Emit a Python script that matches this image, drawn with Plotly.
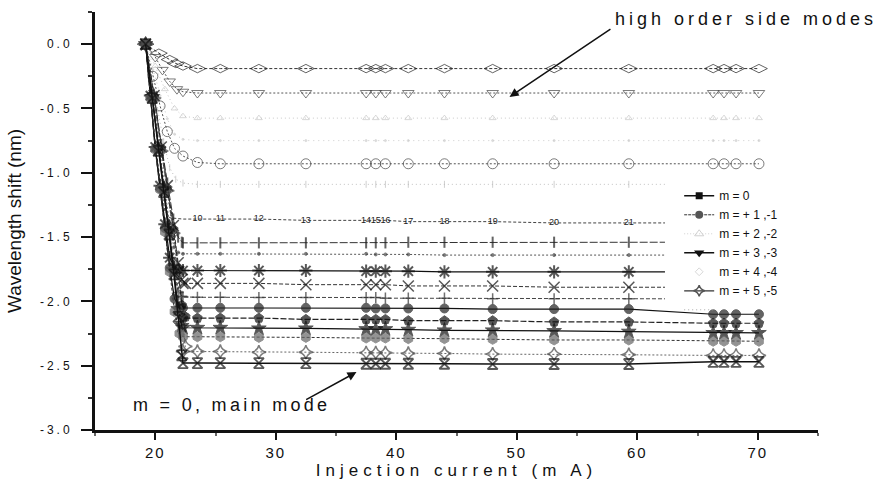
import plotly.graph_objects as go

# ---------------- data ----------------
X_PLAT = [22.3, 23.5, 25.4, 28.6, 32.5, 37.5, 38.3, 39.1, 41.0, 44.0, 48.0, 53.1, 59.3]
X_TAIL_LONG = [66.3, 67.2, 68.2, 70.1]
X_TAIL_SHORT = [62.3]
X_DESC_A = [19.2, 19.6, 20.0, 20.4, 20.8, 21.2, 21.6, 22.0]
X_DESC_B = [19.2, 19.75, 20.25, 20.7, 21.15, 21.55, 21.9, 22.2]
X_DESC_C = [19.2, 19.9, 20.5, 21.0, 21.5, 21.9, 22.2, 22.5]

# upper (high order side) modes
s01_xd = [19.2, 20.3, 21.2, 21.7]
s01_yd = [0.0, -0.07, -0.12, -0.15]
s01_yp = [-0.17, -0.19, -0.19, -0.19, -0.19, -0.19, -0.19, -0.19, -0.19, -0.19, -0.19, -0.19, -0.19]
s01_yt = [-0.19, -0.19, -0.19, -0.19]

s02_xd = [19.2, 20.0, 20.6, 21.2, 21.8]
s02_yd = [0.0, -0.10, -0.20, -0.29, -0.35]
s02_yp = [-0.37, -0.38, -0.38, -0.38, -0.38, -0.38, -0.38, -0.38, -0.38, -0.38, -0.38, -0.38, -0.38]
s02_yt = [-0.38, -0.38, -0.38, -0.38]

s03_xd = [19.2, 20.0, 20.8, 21.6]
s03_yd = [0.0, -0.17, -0.35, -0.50]
s03_yp = [-0.56, -0.575, -0.575, -0.575, -0.575, -0.575, -0.575, -0.575, -0.575, -0.575, -0.575, -0.575, -0.575]
s03_yt = [-0.575, -0.575, -0.575, -0.575]

s04_xd = [19.2, 19.8, 20.4, 21.0, 21.6]
s04_yd = [0.0, -0.20, -0.40, -0.58, -0.70]
s04_yp = [-0.74, -0.75, -0.75, -0.75, -0.75, -0.75, -0.75, -0.75, -0.75, -0.75, -0.75, -0.75, -0.75]
s04_yt = [-0.75, -0.75, -0.75, -0.75]

s05_xd = [19.2, 19.8, 20.4, 21.0, 21.6]
s05_yd = [0.0, -0.25, -0.48, -0.68, -0.81]
s05_yp = [-0.87, -0.92, -0.93, -0.93, -0.93, -0.93, -0.93, -0.93, -0.93, -0.93, -0.93, -0.93, -0.93]
s05_yt = [-0.93, -0.93, -0.93, -0.93]

s06_xd = [19.2, 19.7, 20.2, 20.7, 21.2, 21.7]
s06_yd = [0.0, -0.26, -0.52, -0.76, -0.96, -1.05]
s06_yp = [-1.08, -1.09, -1.09, -1.09, -1.09, -1.09, -1.09, -1.09, -1.09, -1.09, -1.09, -1.09, -1.09]
s06_yt = [-1.09]

# lower modes
s07_yd = [0.0, -0.38, -0.76, -1.06, -1.30, -1.35]
s07_yp = [-1.36, -1.36, -1.36, -1.36, -1.37, -1.37, -1.37, -1.37, -1.38, -1.38, -1.38, -1.39, -1.39]
s07_yt = [-1.39]
s07_labels = ["", "10", "11", "12", "13", "14", "15", "16", "17", "18", "19", "20", "21"]

s08_yd = [0.0, -0.39, -0.78, -1.08, -1.36, -1.50, -1.54]
s08_yp = [-1.545, -1.545, -1.545, -1.545, -1.545, -1.545, -1.545, -1.545, -1.54, -1.54, -1.54, -1.54, -1.54]
s08_yt = [-1.54]

s09_yd = [0.0, -0.39, -0.78, -1.09, -1.38, -1.58, -1.62]
s09_yp = [-1.63, -1.63, -1.63, -1.63, -1.63, -1.63, -1.635, -1.635, -1.635, -1.64, -1.64, -1.64, -1.64]
s09_yt = [-1.64]

s10_yd = [0.0, -0.40, -0.80, -1.10, -1.40, -1.66, -1.74, -1.76]
s10_yp = [-1.76, -1.76, -1.76, -1.76, -1.76, -1.765, -1.765, -1.765, -1.765, -1.77, -1.77, -1.77, -1.77]
s10_yt = [-1.77]

s11_yd = [0.0, -0.40, -0.80, -1.10, -1.41, -1.70, -1.83, -1.86]
s11_yp = [-1.86, -1.86, -1.86, -1.86, -1.87, -1.87, -1.87, -1.87, -1.88, -1.88, -1.88, -1.89, -1.89]
s11_yt = [-1.89]

s12_yd = [0.0, -0.40, -0.80, -1.11, -1.42, -1.72, -1.93, -1.96]
s12_yp = [-1.965, -1.968, -1.968, -1.97, -1.97, -1.97, -1.97, -1.975, -1.975, -1.975, -1.98, -1.98, -1.98]
s12_yt = [-1.98]

s13_yd = [0.0, -0.41, -0.81, -1.12, -1.43, -1.74, -1.98, -2.04]
s13_yp = [-2.05, -2.05, -2.05, -2.05, -2.05, -2.05, -2.055, -2.055, -2.055, -2.055, -2.06, -2.06, -2.06]
s13_yt = [-2.10, -2.10, -2.10, -2.10]

s14_yd = [0.0, -0.41, -0.81, -1.12, -1.44, -1.75, -2.03, -2.12]
s14_yp = [-2.13, -2.13, -2.13, -2.13, -2.14, -2.14, -2.14, -2.14, -2.15, -2.15, -2.15, -2.16, -2.16]
s14_yt = [-2.17, -2.17, -2.17, -2.17]

s15_yd = [0.0, -0.41, -0.82, -1.13, -1.45, -1.76, -2.06, -2.19]
s15_yp = [-2.205, -2.205, -2.205, -2.21, -2.21, -2.215, -2.215, -2.215, -2.22, -2.225, -2.225, -2.23, -2.235]
s15_yt = [-2.245, -2.245, -2.245, -2.245]

s16_yd = [0.0, -0.42, -0.82, -1.13, -1.46, -1.77, -2.08, -2.25]
s16_yp = [-2.275, -2.275, -2.275, -2.28, -2.28, -2.285, -2.285, -2.285, -2.29, -2.29, -2.295, -2.30, -2.30]
s16_yt = [-2.31, -2.31, -2.31, -2.31]

s17_yd = [0.0, -0.42, -0.83, -1.14, -1.47, -1.78, -2.10, -2.35]
s17_yp = [-2.39, -2.39, -2.39, -2.395, -2.395, -2.40, -2.40, -2.40, -2.405, -2.405, -2.41, -2.41, -2.415]
s17_yt = [-2.42, -2.42, -2.42, -2.42]

s18_yd = [0.0, -0.42, -0.83, -1.15, -1.48, -1.79, -2.12, -2.42]
s18_yp = [-2.48, -2.48, -2.48, -2.48, -2.48, -2.485, -2.485, -2.485, -2.485, -2.485, -2.487, -2.487, -2.487]
s18_yt = [-2.47, -2.47, -2.47, -2.47]

legend_names = ["m = 0", "m = + 1 ,-1", "m = + 2 ,-2", "m = + 3 ,-3", "m = + 4 ,-4", "m = + 5 ,-5", " "]

y_tickvals = [0.0, -0.5, -1.0, -1.5, -2.0, -2.5, -3.0]
y_ticktext = ["0.0", "-0.5", "-1.0", "-1.5", "-2.0", "-2.5", "-3.0"]
x_tickvals = [20, 30, 40, 50, 60, 70]
x_ticktext = ["20", "30", "40", "50", "60", "70"]

FONT = "Arial, Liberation Sans, sans-serif"


def spaced(t, px):
    return '<span style="letter-spacing:%spx">%s</span>' % (px, t)


fig = go.Figure()


def add(xd, yd, yp, yt, symbol, msize, mcolor, lcolor, dash, lwidth=1.0,
        mlw=1.0, text=None):
    x = list(xd) + X_PLAT + (X_TAIL_LONG if len(yt) > 1 else X_TAIL_SHORT)
    y = list(yd) + yp + yt
    n = len(x)
    sizes = [msize] * n
    if len(yt) == 1:
        sizes[-1] = 0
    mode = "lines+markers"
    kw = {}
    if text is not None:
        mode = "lines+text"
        kw = dict(text=[""] * len(xd) + text + [""] * len(yt),
                  textposition="middle center",
                  textfont=dict(size=9, color="#222", family=FONT))
    fig.add_trace(go.Scatter(
        x=x, y=y, mode=mode, showlegend=False, hoverinfo="skip",
        line=dict(color=lcolor, width=lwidth, dash=dash),
        marker=dict(symbol=symbol, size=sizes, color=mcolor,
                    line=dict(color=mcolor, width=mlw)),
        **kw))


# upper modes
add(s01_xd, s01_yd, s01_yp, s01_yt, "diamond-wide-open", 12, "#222", "#333", "3px,2px", 1.0)
add(s02_xd, s02_yd, s02_yp, s02_yt, "triangle-down-open", 10, "#444", "#555", "2px,2px", 1.0)
add(s03_xd, s03_yd, s03_yp, s03_yt, "triangle-up-open", 6, "#c8c8c8", "#c8c8c8", "1px,3px", 1.0)
add(s04_xd, s04_yd, s04_yp, s04_yt, "circle", 2, "#cccccc", "#cccccc", "1px,4px", 1.0)
add(s05_xd, s05_yd, s05_yp, s05_yt, "circle-open", 10, "#444", "#555", "2px,2px", 1.0)
add(s06_xd, s06_yd, s06_yp, s06_yt, "line-ns-open", 5, "#bbbbbb", "#c0c0c0", "1px,3px", 1.0)

# lower modes
add(X_DESC_A[:len(s07_yd)], s07_yd, s07_yp, s07_yt, "circle", 0, "#333", "#444", "3px,2px", 1.0, text=s07_labels)
add(X_DESC_C[:len(s08_yd)], s08_yd, s08_yp, s08_yt, "line-ns-open", 8, "#222", "#333", "8px,2px", 1.0, mlw=2)
add(X_DESC_B[:len(s09_yd)], s09_yd, s09_yp, s09_yt, "circle", 3, "#444", "#555", "2px,2px", 1.0)
add(X_DESC_A[:len(s10_yd)], s10_yd, s10_yp, s10_yt, "asterisk-open", 11, "#111", "#111", "solid", 1.2, mlw=2)
add(X_DESC_C[:len(s11_yd)], s11_yd, s11_yp, s11_yt, "x-thin-open", 11, "#111", "#333", "4px,2px", 1.0, mlw=1.5)
add(X_DESC_B[:len(s12_yd)], s12_yd, s12_yp, s12_yt, "cross-thin-open", 8, "#333", "#444", "4px,2px", 1.0, mlw=1.5)
add(X_DESC_A[:len(s13_yd)], s13_yd, s13_yp, s13_yt, "circle", 9, "#222", "#111", "solid", 1.2)
add(X_DESC_C[:len(s14_yd)], s14_yd, s14_yp, s14_yt, "pentagon", 10, "#111", "#222", "6px,2px", 1.2)
add(X_DESC_B[:len(s15_yd)], s15_yd, s15_yp, s15_yt, "star", 11, "#111", "#111", "solid", 1.2)
add(X_DESC_A[:len(s16_yd)], s16_yd, s16_yp, s16_yt, "hexagon", 10, "#666", "#333", "3px,2px", 1.0)
add(X_DESC_C[:len(s17_yd)], s17_yd, s17_yp, s17_yt, "star-diamond-open", 10, "#444", "#666", "2px,2px", 1.0, mlw=1.5)
add(X_DESC_B[:len(s18_yd)], s18_yd, s18_yp, s18_yt, "hourglass-open", 10, "#111", "#111", "solid", 1.5, mlw=1.8)

# legend entries
leg_styles = [
    dict(line=dict(color="#111", width=1.5), marker=dict(symbol="square", size=7, color="#111"), mode="lines+markers"),
    dict(line=dict(color="#333", width=1, dash="3px,1px"), marker=dict(symbol="circle", size=8, color="#555"), mode="lines+markers"),
    dict(line=dict(color="#d0d0d0", width=1, dash="1px,2px"), marker=dict(symbol="triangle-up-open", size=8, color="#d0d0d0"), mode="lines+markers"),
    dict(line=dict(color="#111", width=1.5), marker=dict(symbol="triangle-down", size=9, color="#111"), mode="lines+markers"),
    dict(marker=dict(symbol="diamond-open", size=6, color="#d8d8d8"), mode="markers"),
    dict(line=dict(color="#333", width=1.2), marker=dict(symbol="star-diamond-open", size=8, color="#555", line=dict(width=1.5, color="#555")), mode="lines+markers"),
    dict(line=dict(color="#aaaaaa", width=1, dash="1px,3px"), mode="lines"),
]
for name, st in zip(legend_names, leg_styles):
    fig.add_trace(go.Scatter(x=[None], y=[None], name=name, showlegend=True, **st))

fig.update_layout(
    width=878, height=492,
    margin=dict(l=95, r=60, t=12, b=62),
    paper_bgcolor="white", plot_bgcolor="white",
    font=dict(family=FONT, color="#111"),
    showlegend=True,
    legend=dict(x=0.808, y=0.595, xanchor="left", yanchor="top",
                bgcolor="rgba(0,0,0,0)", font=dict(size=12, family=FONT, color="#111"),
                tracegroupgap=0, itemwidth=30),
    xaxis=dict(range=[15, 75], showgrid=False, zeroline=False,
               showline=True, linecolor="#111", linewidth=3,
               ticks="outside", ticklen=7, tickwidth=2, tickcolor="#111",
               tickvals=x_tickvals, ticktext=[spaced(t, 2) for t in x_ticktext],
               tickfont=dict(size=15, family=FONT, color="#111"),
               minor=dict(ticks="outside", dtick=5, ticklen=3, tickwidth=2, tickcolor="#666"),
               title=dict(text=spaced("Injection current (m A)", 5),
                          font=dict(size=17, family=FONT, color="#111"), standoff=2)),
    yaxis=dict(range=[-3.0, 0.25], showgrid=False, zeroline=False,
               showline=True, linecolor="#111", linewidth=3,
               ticks="outside", ticklen=11, tickwidth=2, tickcolor="#111",
               tickvals=y_tickvals, ticktext=[spaced(t, 3) for t in y_ticktext],
               tickfont=dict(size=12, family=FONT, color="#111"),
               ticklabelstandoff=6,
               minor=dict(ticks="outside", dtick=0.25, ticklen=4, tickwidth=2, tickcolor="#333"),
               title=dict(text="Wavelength shift (nm)",
                          font=dict(size=19, family=FONT, color="#111"), standoff=14)),
    annotations=[
        dict(x=49.4, y=-0.41, ax=57.9, ay=0.124, xref="x", yref="y", axref="x", ayref="y",
             text="", showarrow=True, arrowhead=2, arrowsize=1.2, arrowwidth=1.5, arrowcolor="#111"),
        dict(x=36.7, y=-2.55, ax=32.4, ay=-2.77, xref="x", yref="y", axref="x", ayref="y",
             text="", showarrow=True, arrowhead=2, arrowsize=1.2, arrowwidth=1.5, arrowcolor="#111"),
        dict(x=0.9, y=0.983, xref="paper", yref="paper", xanchor="center", yanchor="middle",
             text=spaced("high order side modes", 4), showarrow=False,
             font=dict(size=18, family=FONT, color="#111")),
        dict(x=26.3, y=-2.806, xref="x", yref="y", xanchor="center", yanchor="middle",
             text=spaced("m = 0, main mode", 3.3), showarrow=False,
             font=dict(size=18, family=FONT, color="#111")),
    ],
)

fig.write_html("out.html")
